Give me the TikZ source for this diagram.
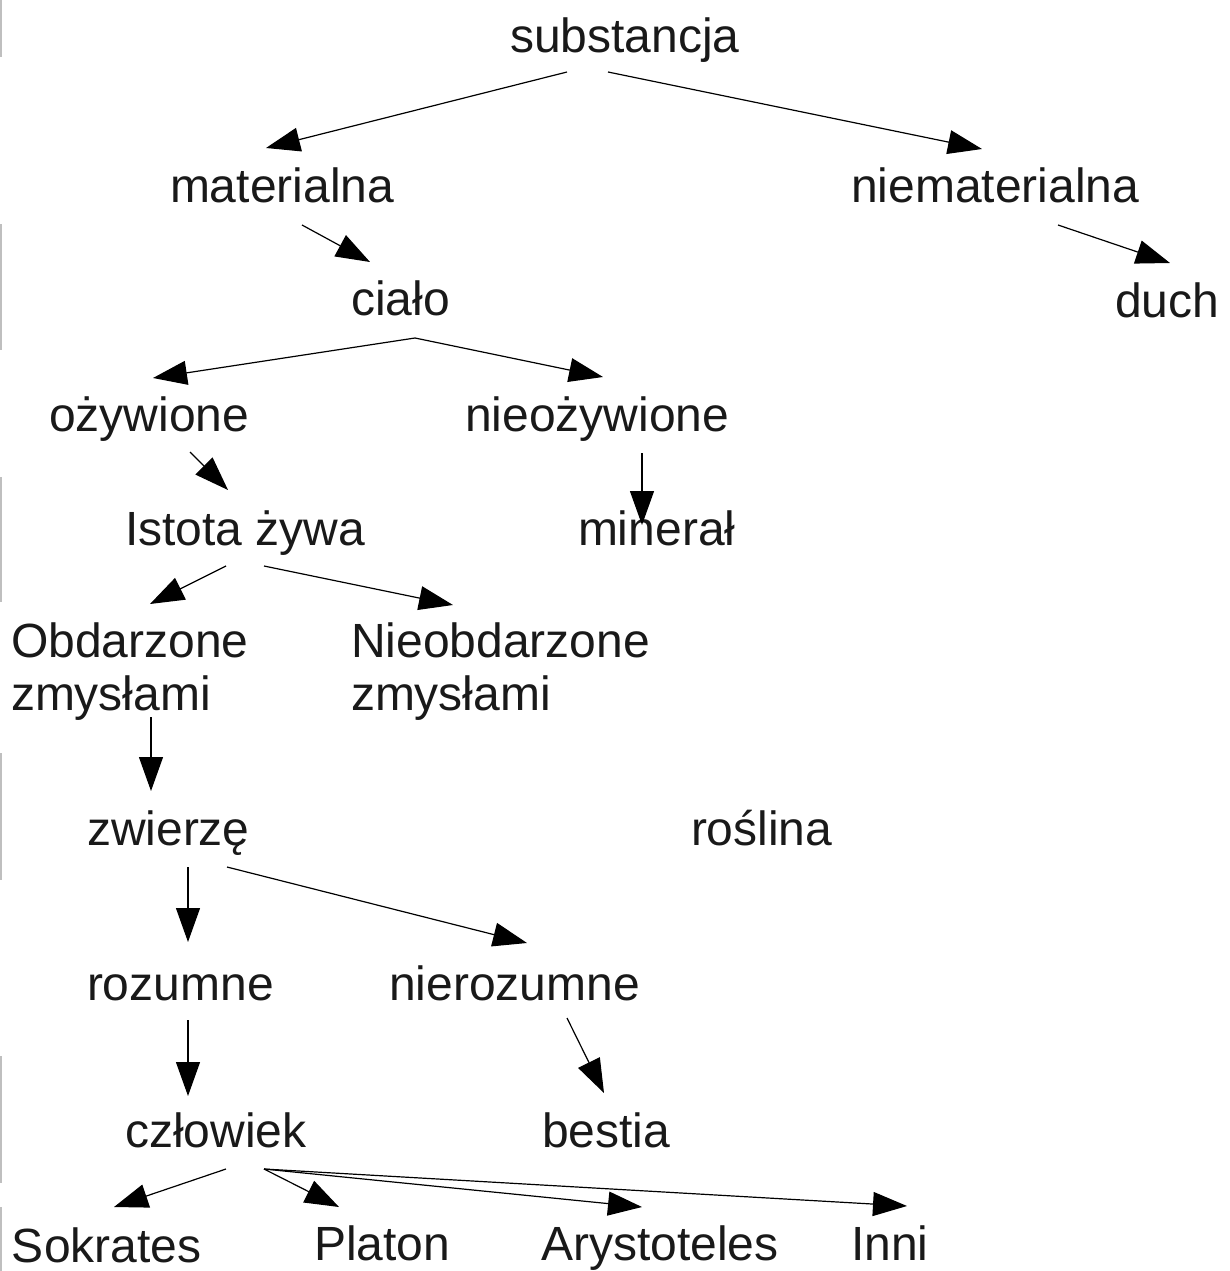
\documentclass[tikz,border=0pt]{standalone}
\usepackage{fontspec}
\setmainfont{Liberation Sans}
\usetikzlibrary{arrows.meta}
\begin{document}
\begin{tikzpicture}[x=1pt,y=-1pt,
  lbl/.style={anchor=base west,inner sep=0pt,outer sep=0pt,text=black!90,
    font=\fontsize{48}{53}\selectfont},
  lbl2/.style={lbl,align=left},
  link/.style={line width=1.2pt,-{Triangle[length=34pt,width=24pt]}},
  edgemark/.style={line width=2pt,draw=black!25}]
\useasboundingbox (0,0) rectangle (1230,1271);
\fill[white] (0,0) rectangle (1230,1271);

% faint marks along the left edge
\foreach \a/\b in {0/57,224/350,477/602,753/880,1056/1183,1207/1271}
  \draw[edgemark] (1,\a) -- (1,\b);

% labels
\node[lbl] (substancja) at (510,53) {substancja};
\node[lbl] (materialna) at (170,202) {materialna};
\node[lbl] (niematerialna) at (851,202) {niematerialna};
\node[lbl] (cialo) at (351,315) {ciało};
\node[lbl] (duch) at (1115,317) {duch};
\node[lbl] (ozywione) at (49,431) {ożywione};
\node[lbl] (nieozywione) at (465,431) {nieożywione};
\node[lbl] (istota) at (125,545) {Istota żywa};
\node[lbl] (mineral) at (578,545) {minerał};
\node[lbl] (obdarzone) at (11,657) {Obdarzone};
\node[lbl] (obdarzoneb) at (11,710) {zmysłami};
\node[lbl] (nieobdarzone) at (351,657) {Nieobdarzone};
\node[lbl] (nieobdarzoneb) at (351,710) {zmysłami};
\node[lbl] (zwierze) at (87,845) {zwierzę};
\node[lbl] (roslina) at (691,845) {roślina};
\node[lbl] (rozumne) at (87,1000) {rozumne};
\node[lbl] (nierozumne) at (389,1000) {nierozumne};
\node[lbl] (czlowiek) at (125,1147) {człowiek};
\node[lbl] (bestia) at (542,1147) {bestia};
\node[lbl] (sokrates) at (12,1262) {Sokrates};
\node[lbl] (platon) at (314,1260) {Platon};
\node[lbl] (arystoteles) at (541,1260) {Arystoteles};
\node[lbl] (inni) at (851,1260) {Inni};

% connector ends
\coordinate (s1) at (567,72);   \coordinate (t1) at (266,148);
\coordinate (s2) at (608,72);   \coordinate (t2) at (982,149);
\coordinate (s3) at (302,225);  \coordinate (t3) at (370,262);
\coordinate (s4) at (1058,225); \coordinate (t4) at (1170,263);
\coordinate (s5) at (415,338);  \coordinate (t5) at (153,378);
\coordinate (t6) at (603,377);
\coordinate (s7) at (190,452);  \coordinate (t7) at (228,490);
\coordinate (s8) at (642,453);  \coordinate (t8) at (642,525);
\coordinate (s9) at (226,566);  \coordinate (t9) at (150,604);
\coordinate (s10) at (264,566); \coordinate (t10) at (453,605);
\coordinate (s11) at (151,717); \coordinate (t11) at (151,791);
\coordinate (s12) at (188,867); \coordinate (t12) at (188,942);
\coordinate (s13) at (227,867); \coordinate (t13) at (527,943);
\coordinate (s14) at (188,1020);\coordinate (t14) at (188,1096);
\coordinate (s15) at (567,1018);\coordinate (t15) at (604,1093);
\coordinate (s16) at (226,1169);\coordinate (t16) at (114,1207);
\coordinate (s17) at (264,1169);\coordinate (t17) at (339,1207);
\coordinate (t18) at (642,1207);
\coordinate (t19) at (907,1206);

% connectors
\draw[link] (s1) -- (t1);
\draw[link] (s2) -- (t2);
\draw[link] (s3) -- (t3);
\draw[link] (s4) -- (t4);
\draw[link] (s5) -- (t5);
\draw[link] (s5) -- (t6);
\draw[link] (s7) -- (t7);
\draw[link] (s8) -- (t8);
\draw[link] (s9) -- (t9);
\draw[link] (s10) -- (t10);
\draw[link] (s11) -- (t11);
\draw[link] (s12) -- (t12);
\draw[link] (s13) -- (t13);
\draw[link] (s14) -- (t14);
\draw[link] (s15) -- (t15);
\draw[link] (s16) -- (t16);
\draw[link] (s17) -- (t17);
\draw[link] (s17) -- (t18);
\draw[link] (s17) -- (t19);
\end{tikzpicture}
\end{document}
